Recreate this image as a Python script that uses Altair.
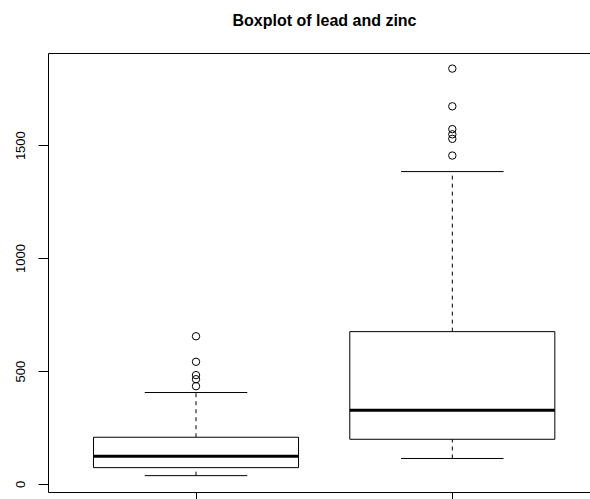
import altair as alt
import pandas as pd

# Summary statistics for the two heavy metals (ppm)
groups = ["lead", "zinc"]
positions = [1, 2]
lower_whisker = [37, 113]
q1 = [72.5, 198]
median = [123, 326]
q3 = [207, 674.5]
upper_whisker = [405, 1383]

# Points beyond the whiskers
lead_outliers = [433, 464, 482, 541, 654]
zinc_outliers = [1454, 1528, 1548, 1571, 1672, 1839]

y_ticks = [0, 500, 1000, 1500]

BOXWEX = 0.8
STAPLE = 0.4

stats = pd.DataFrame({
    "group": groups,
    "pos": positions,
    "lo": lower_whisker,
    "q1": q1,
    "med": median,
    "q3": q3,
    "hi": upper_whisker,
})
stats["left"] = stats["pos"] - BOXWEX / 2
stats["right"] = stats["pos"] + BOXWEX / 2
stats["sleft"] = stats["pos"] - STAPLE / 2
stats["sright"] = stats["pos"] + STAPLE / 2

out = pd.DataFrame({
    "pos": [1] * len(lead_outliers) + [2] * len(zinc_outliers),
    "value": lead_outliers + zinc_outliers,
})

xscale = alt.Scale(domain=[0.4225, 2.5372], nice=False, zero=False)
yscale = alt.Scale(domain=[-35.4, 1908], nice=False, zero=False)

xaxis = alt.Axis(values=positions, labels=False, title=None, domain=False,
                 grid=False, tickSize=8, tickColor="black", tickWidth=1)
yaxis = alt.Axis(values=y_ticks, title=None, domain=False, grid=False,
                 tickSize=10, tickColor="black", tickWidth=1,
                 labelAngle=270, labelAlign="center", labelBaseline="alphabetic",
                 labelPadding=14, labelFont="Liberation Sans", labelFontSize=13,
                 labelColor="black", format="d")

base = alt.Chart(stats)

boxes = base.mark_rect(fill="white", stroke="black", strokeWidth=1).encode(
    x=alt.X("left:Q", scale=xscale, axis=xaxis),
    x2="right:Q",
    y=alt.Y("q1:Q", scale=yscale, axis=yaxis),
    y2="q3:Q",
)

medians = base.mark_rule(color="black", strokeWidth=3, strokeCap="butt").encode(
    x="left:Q", x2="right:Q", y="med:Q"
)

upper = base.mark_rule(color="black", strokeWidth=1, strokeDash=[4, 4]).encode(
    x="pos:Q", y="q3:Q", y2="hi:Q"
)
lower = base.mark_rule(color="black", strokeWidth=1, strokeDash=[4, 4]).encode(
    x="pos:Q", y="lo:Q", y2="q1:Q"
)

staple_hi = base.mark_rule(color="black", strokeWidth=1).encode(
    x="sleft:Q", x2="sright:Q", y="hi:Q"
)
staple_lo = base.mark_rule(color="black", strokeWidth=1).encode(
    x="sleft:Q", x2="sright:Q", y="lo:Q"
)

points = alt.Chart(out).mark_point(
    shape="circle", filled=False, size=55, stroke="black", strokeWidth=1, opacity=1
).encode(x="pos:Q", y="value:Q")

chart = alt.layer(
    upper, lower, boxes, medians, staple_hi, staple_lo, points
).properties(
    width=542,
    height=439,
    title=alt.TitleParams(
        "Boxplot of lead and zinc",
        font="Liberation Sans", fontSize=16, fontWeight="bold",
        anchor="middle", dx=5.5, offset=11, baseline="alphabetic", color="black",
    ),
    autosize=alt.AutoSizeParams(type="none"),
    padding={"left": 48, "top": 53, "right": 0, "bottom": 7},
    background="white",
).configure_view(stroke="black", strokeWidth=1)

chart.save("out.html", embed_options={"renderer": "svg", "actions": False})
